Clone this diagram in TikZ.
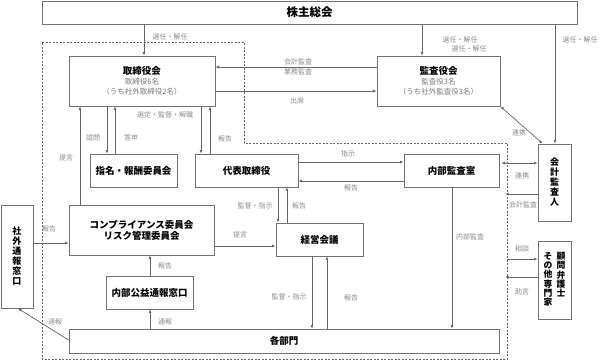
\documentclass[tikz,border=0pt]{standalone}
\usepackage{fontspec}
\setmainfont{Noto Sans CJK JP}
\usetikzlibrary{arrows.meta}
\definecolor{boxgray}{HTML}{707070}
\definecolor{linegray}{HTML}{666666}
\definecolor{lblgray}{HTML}{8A8A8A}
\definecolor{subgray}{HTML}{7A7A7A}
\tikzset{
  box/.style={draw=boxgray, line width=0.9pt, inner sep=0pt, fill=white, align=center, font=\fontsize{9.5}{11}\selectfont\bfseries},
  vbox/.style={box, font=\fontsize{9}{10}\selectfont\bfseries},
  vtext/.style={inner sep=0pt, anchor=north, align=center, font=\fontsize{8.8}{9.3}\selectfont\bfseries},
  arr/.style={draw=linegray, line width=0.7pt, -{Latex[length=3.5pt,width=3pt]}},
  darr/.style={draw=linegray, line width=0.7pt, {Latex[length=3.5pt,width=3pt]}-{Latex[length=3.5pt,width=3pt]}},
  lbl/.style={inner sep=0pt, text=lblgray, font=\fontsize{7}{8}\selectfont},
  boundary/.style={draw=linegray, line width=0.7pt, dash pattern=on 2pt off 1.5pt},
}
\begin{document}
\begin{tikzpicture}[x=1pt,y=-1pt]
\useasboundingbox (0,0) rectangle (603,362);
% dashed boundary
\draw[boundary] (42,42) -- (244,42) -- (244,143) -- (507,143) -- (507,359) -- (42,359) -- cycle;
% boxes
\node[box, minimum width=535pt, minimum height=23pt, font=\fontsize{11.5}{12}\selectfont\bfseries] (share) at (309.5,12.5) {株主総会};
\node[box, minimum width=146pt, minimum height=50pt] (board) at (142,81) {取締役会\\[-1pt]{\fontsize{7.5}{10.5}\selectfont\mdseries\color{subgray}取締役6名}\\[-1.5pt]{\fontsize{7.5}{10.5}\selectfont\mdseries\color{subgray}（うち社外取締役2名）}};
\node[box, minimum width=123pt, minimum height=50pt] (audit) at (438.5,81) {監査役会\\[-1pt]{\fontsize{7.5}{10.5}\selectfont\mdseries\color{subgray}監査役3名}\\[-1.5pt]{\fontsize{7.5}{10.5}\selectfont\mdseries\color{subgray}（うち社外監査役3名）}};
\node[box, minimum width=87pt, minimum height=33pt] (nom) at (133.5,170.5) {指名・報酬委員会};
\node[box, minimum width=103pt, minimum height=33pt] (rep) at (246.5,170.5) {代表取締役};
\node[box, minimum width=95pt, minimum height=33pt] (ia) at (451.5,170.5) {内部監査室};
\node[vbox, minimum width=33pt, minimum height=77pt] (acc) at (554.5,182.5) {会\\計\\監\\査\\人};
\node[box, minimum width=33pt, minimum height=78pt] (adv) at (554.5,280) {};
\node[vtext] (advA) at (561,252) {顧\\問\\弁\\護\\士};
\node[vtext] (advB) at (548,252) {そ\\の\\他\\専\\門\\家};
\node[box, minimum width=145pt, minimum height=50pt] (comp) at (141.5,230) {コンプライアンス委員会\\リスク管理委員会};
\node[box, minimum width=87pt, minimum height=33pt] (mgmt) at (319.5,239.5) {経営会議};
\node[vbox, minimum width=32pt, minimum height=103pt, font=\fontsize{9}{10}\selectfont\bfseries] (ext) at (17,256.5) {社\\外\\通\\報\\窓\\口};
\node[box, minimum width=87pt, minimum height=33pt] (whistle) at (149.5,292.5) {内部公益通報窓口};
\node[box, minimum width=430pt, minimum height=24pt] (dept) at (284,341) {各部門};
% free ends on the boundary
\coordinate (bAcc) at (505,194);
\coordinate (bSou) at (507,259);
\coordinate (bJog) at (505,277);
% connectors
\draw[arr] ([xshift=-165.5pt]share.south) -- ([xshift=2pt]board.north);
\node[lbl] at (170,37) {選任・解任};
\draw[arr] ([xshift=112.5pt]share.south) -- ([xshift=-16.5pt]audit.north);
\node[lbl] at (460,40) {選任・解任};
\node[lbl] at (469,49) {選任・解任};
\draw[arr] ([xshift=245.5pt]share.south) -- ([xshift=0.5pt]acc.north);
\node[lbl] at (580,40) {選任・解任};
\draw[arr] ([yshift=14pt]audit.west) -- ([yshift=14pt]board.east);
\node[lbl] at (298,62) {会計監査};
\node[lbl] at (298,72) {業務監査};
\draw[arr] ([yshift=-10pt]board.east) -- ([yshift=-10pt]audit.west);
\node[lbl] at (297,101) {出席};
\draw[darr] (audit.south east) -- ([xshift=5pt]acc.north west);
\node[lbl] at (519,133) {連携};
\draw[arr] ([xshift=-61.5pt]comp.north) -- ([xshift=-62pt]board.south);
\node[lbl] at (66,158) {提言};
\draw[arr] ([xshift=-35pt]board.south) -- ([xshift=-26.5pt]nom.north);
\node[lbl] at (93,138) {諮問};
\draw[arr] ([xshift=-18.5pt]nom.north) -- ([xshift=-27pt]board.south);
\node[lbl] at (131,138) {答申};
\draw[arr] ([xshift=59pt]board.south) -- ([xshift=-45.5pt]rep.north);
\node[lbl] at (165,115) {選定・監督・解職};
\draw[arr] ([xshift=-36.5pt]rep.north) -- ([xshift=68pt]board.south);
\node[lbl] at (225,139) {報告};
\draw[arr] ([yshift=8.5pt]rep.east) -- ([yshift=8.5pt]ia.west);
\node[lbl] at (348,154) {指示};
\draw[arr] ([yshift=-10.5pt]ia.west) -- ([yshift=-10.5pt]rep.east);
\node[lbl] at (351,188) {報告};
\draw[darr] ([yshift=7.5pt,xshift=2pt]ia.east) -- ([yshift=19.5pt]acc.west);
\node[lbl] at (522,176) {連携};
\draw[arr] ([yshift=-11.5pt]acc.west) -- (bAcc);
\node[lbl] at (523,205) {会計監査};
\draw[arr] ([xshift=0.5pt]ia.south) -- ([xshift=168pt]dept.north);
\node[lbl] at (470,237) {内部監査};
\draw[arr] (bSou) -- ([yshift=21pt]adv.west);
\node[lbl] at (522,249) {相談};
\draw[arr] ([yshift=3pt]adv.west) -- (bJog);
\node[lbl] at (522,292) {助言};
\draw[arr] ([xshift=31.5pt]rep.south) -- ([xshift=-41.5pt]mgmt.north);
\node[lbl] at (255,206) {監督・指示};
\draw[arr] ([xshift=-32.5pt]mgmt.north) -- ([xshift=40.5pt]rep.south);
\node[lbl] at (299,206) {報告};
\draw[arr] ([yshift=-16pt]comp.east) -- ([yshift=-6.5pt]mgmt.west);
\node[lbl] at (240,235) {提言};
\draw[arr] ([yshift=13.5pt]ext.east) -- ([yshift=-13pt]comp.west);
\node[lbl] at (49,229) {報告};
\draw[arr] ([yshift=1pt]dept.west) -- ([xshift=1pt]ext.south);
\node[lbl] at (55,322) {通報};
\draw[arr] ([xshift=0.5pt]whistle.north) -- ([xshift=8.5pt]comp.south);
\node[lbl] at (165,266) {報告};
\draw[arr] ([xshift=-134pt]dept.north) -- ([xshift=0.5pt]whistle.south);
\node[lbl] at (165,322) {通報};
\draw[arr] ([xshift=-7.5pt]mgmt.south) -- ([xshift=28pt]dept.north);
\node[lbl] at (289,297) {監督・指示};
\draw[arr] ([xshift=43pt]dept.north) -- ([xshift=7.5pt]mgmt.south);
\node[lbl] at (351,298) {報告};
\end{tikzpicture}
\end{document}
